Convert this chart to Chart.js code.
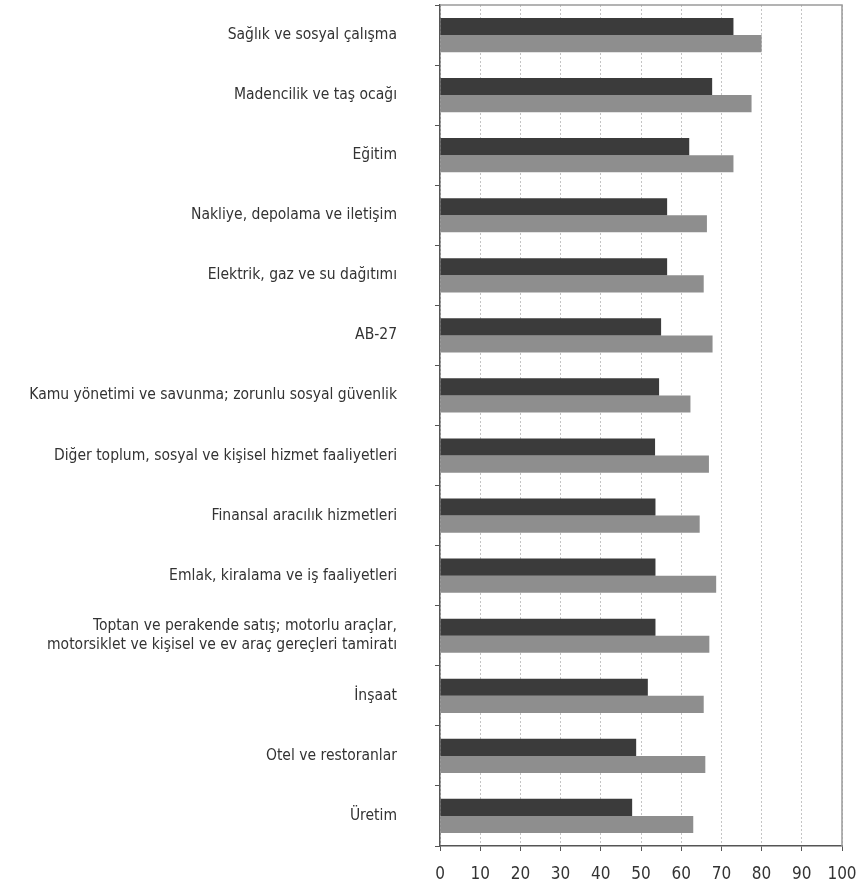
<!DOCTYPE html>
<html>
<head>
<meta charset="utf-8">
<script src="https://cdn.jsdelivr.net/npm/chart.js@4"></script>
<style>
  html, body { margin: 0; padding: 0; background: #fff; }
  #kutu { width: 864px; height: 886px; }
</style>
</head>
<body>
<div id="kutu"><canvas id="grafik"></canvas></div>
<script>
// sektörler (yukarıdan aşağıya)
const sektorler = [
    'Sağlık ve sosyal çalışma',
    'Madencilik ve taş ocağı',
    'Eğitim',
    'Nakliye, depolama ve iletişim',
    'Elektrik, gaz ve su dağıtımı',
    'AB-27',
    'Kamu yönetimi ve savunma; zorunlu sosyal güvenlik',
    'Diğer toplum, sosyal ve kişisel hizmet faaliyetleri',
    'Finansal aracılık hizmetleri',
    'Emlak, kiralama ve iş faaliyetleri',
    ['Toptan ve perakende satış; motorlu araçlar,', 'motorsiklet ve kişisel ve ev araç gereçleri tamiratı'],
    'İnşaat',
    'Otel ve restoranlar',
    'Üretim'
];

// koyu seri
const seriKoyu = [73, 67.7, 62, 56.5, 56.5, 55, 54.5, 53.5, 53.6, 53.6, 53.6, 51.7, 48.8, 47.8];
// gri seri
const seriGri = [80, 77.5, 73, 66.4, 65.6, 67.8, 62.3, 66.9, 64.6, 68.7, 67, 65.6, 66, 63];

// x ekseni
const xMin = 0;
const xMax = 100;
const xAdim = 10;

const yaziTipi = "'Liberation Sans Narrow', 'DejaVu Sans Condensed', 'Liberation Sans', sans-serif";

const cerceve = {
    id: 'cerceve',
    afterDraw(chart) {
        const a = chart.chartArea;
        const ctx = chart.ctx;
        ctx.save();
        ctx.strokeStyle = '#9a9a9a';
        ctx.lineWidth = 1.5;
        ctx.beginPath();
        ctx.moveTo(a.left, a.top);
        ctx.lineTo(a.right, a.top);
        ctx.lineTo(a.right, a.bottom);
        ctx.stroke();
        ctx.restore();
    }
};

let grafik = new Chart(document.getElementById('grafik').getContext('2d'), {
    type: 'bar',
    data: {
        labels: sektorler,
        datasets: [
            {
                data: seriKoyu,
                backgroundColor: '#3b3b3b',
                categoryPercentage: 0.57,
                barPercentage: 1.0
            },
            {
                data: seriGri,
                backgroundColor: '#8e8e8e',
                categoryPercentage: 0.57,
                barPercentage: 1.0
            }
        ]
    },
    options: {
        indexAxis: 'y',
        responsive: true,
        maintainAspectRatio: false,
        animation: false,
        layout: { padding: { top: 5, right: 22, left: 0, bottom: 0 } },
        plugins: {
            legend: { display: false },
            tooltip: { enabled: false }
        },
        scales: {
            x: {
                min: xMin,
                max: xMax,
                ticks: {
                    stepSize: xAdim,
                    padding: 13,
                    color: '#333',
                    font: { family: yaziTipi, size: 17 },
                    maxRotation: 0
                },
                grid: {
                    color: '#c4c4c4',
                    lineWidth: 1,
                    tickLength: 5,
                    tickColor: '#555'
                },
                border: { display: true, color: '#555', width: 1.5, dash: [2, 2] },
                afterFit(scale) {
                    scale.height = 40;
                    scale.paddingLeft = 0;
                    scale.paddingRight = 0;
                }
            },
            y: {
                ticks: {
                    padding: 38,
                    color: '#333',
                    font: { family: yaziTipi, size: 15.5 },
                    autoSkip: false
                },
                grid: {
                    offset: true,
                    drawOnChartArea: false,
                    drawTicks: true,
                    tickLength: 5,
                    color: '#555'
                },
                border: { display: true, color: '#555', width: 1.5 },
                afterFit(scale) {
                    scale.width = 440;
                    scale.paddingTop = 0;
                    scale.paddingBottom = 0;
                }
            }
        }
    },
    plugins: [cerceve]
});
</script>
</body>
</html>
